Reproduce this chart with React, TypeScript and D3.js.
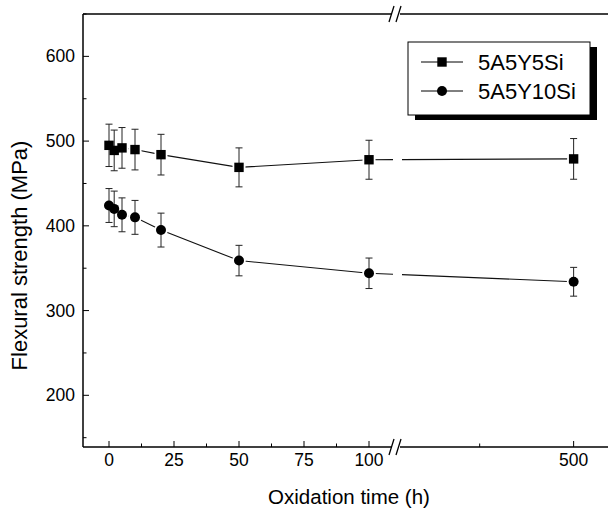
import React from 'react';
import * as d3 from 'd3';

// oxidation time (h) and flexural strength (MPa)
const times = [0, 2, 5, 10, 20, 50, 100, 500];
const si5 = [495, 489, 492, 490, 484, 469, 478, 479];
const si5Err = [25, 24, 24, 24, 24, 23, 23, 24];
const si10 = [424, 420, 413, 410, 395, 359, 344, 334];
const si10Err = [20, 21, 20, 20, 20, 18, 18, 17];

const seriesNames = ['5A5Y5Si', '5A5Y10Si'];
const yTicks = [200, 300, 400, 500, 600];
const yMinor = [150, 250, 350, 450, 550, 650];
const xTicksLeft = [0, 25, 50, 75, 100];
const xMinorLeft = [12.5, 37.5, 62.5, 87.5];
const xTicksRight = [500];
const xMinorRight = [450];

const W = 608, H = 516;
const left = 83, top = 14, bottom = 447, right = 640;
const breakX = 397;

const xLeft = d3.scaleLinear().domain([-10, 110]).range([left, 395]);
const xRight = d3.scaleLinear().domain([406, 530]).range([breakX, 630]);
const xPos = (t: number) => (t <= 110 ? xLeft(t) : xRight(t));
const y = d3.scaleLinear().domain([139, 650]).range([bottom, top]);

const font = '"Liberation Sans", Arial, sans-serif';

// split the polyline where it crosses the axis break
function segments(vals: number[]) {
  const pts = times.map((t, i) => [xPos(t), y(vals[i])] as [number, number]);
  const out: [number, number][][] = [];
  let cur: [number, number][] = [pts[0]];
  for (let i = 1; i < pts.length; i++) {
    const a = pts[i - 1], b = pts[i];
    if (a[0] < breakX && b[0] > breakX) {
      const at = (x: number) => [x, a[1] + (b[1] - a[1]) * (x - a[0]) / (b[0] - a[0])] as [number, number];
      cur.push(at(breakX - 4));
      out.push(cur);
      cur = [at(breakX + 5), b];
    } else {
      cur.push(b);
    }
  }
  out.push(cur);
  return out;
}

const line = d3.line<[number, number]>();

const Marker = ({ kind, x, yy, fill, r = 4.7 }: any) =>
  kind === 'square'
    ? <rect x={x - r} y={yy - r} width={r * 2} height={r * 2} fill={fill} />
    : <circle cx={x} cy={yy} r={r + 0.3} fill={fill} />;

const Series = ({ vals, errs, kind }: any) => (
  <g>
    {segments(vals).map((s, i) => (
      <path key={i} d={line(s) || ''} fill="none" stroke="#111" strokeWidth={1.1} />
    ))}
    {times.map((t, i) => (
      <Marker key={'h' + i} kind={kind} x={xPos(t)} yy={y(vals[i])} fill="#fff" r={6.5} />
    ))}
    {times.map((t, i) => {
      const x = xPos(t);
      return (
        <g key={'e' + i} stroke="#222" strokeWidth={1}>
          <line x1={x} x2={x} y1={y(vals[i] + errs[i])} y2={y(vals[i] - errs[i])} />
          <line x1={x - 3.5} x2={x + 3.5} y1={y(vals[i] + errs[i])} y2={y(vals[i] + errs[i])} />
          <line x1={x - 3.5} x2={x + 3.5} y1={y(vals[i] - errs[i])} y2={y(vals[i] - errs[i])} />
        </g>
      );
    })}
    {times.map((t, i) => (
      <Marker key={'m' + i} kind={kind} x={xPos(t)} yy={y(vals[i])} fill="#000" />
    ))}
  </g>
);

const BreakMark = ({ yy }: { yy: number }) => (
  <g>
    <rect x={breakX - 5} y={yy - 2} width={8} height={4} fill="#fff" />
    <line x1={breakX - 8} y1={yy + 8} x2={breakX - 3} y2={yy - 8} stroke="#000" strokeWidth={1.3} />
    <line x1={breakX - 1} y1={yy + 8} x2={breakX + 4} y2={yy - 8} stroke="#000" strokeWidth={1.3} />
  </g>
);

export default function App() {
  const lx = 408, ly = 42, lw = 182, lh = 73;
  return (
    <svg width={W} height={H} style={{ position: 'absolute', left: 0, top: 0, background: '#fff' }} fontFamily={font}>
      <rect width={W} height={H} fill="#fff" />

      {/* frame */}
      <line x1={left} x2={left} y1={top} y2={bottom} stroke="#000" strokeWidth={1.5} />
      <line x1={left} x2={right} y1={bottom} y2={bottom} stroke="#000" strokeWidth={1.5} />
      <line x1={left} x2={right} y1={top} y2={top} stroke="#000" strokeWidth={1.5} />
      <BreakMark yy={top} />
      <BreakMark yy={bottom} />

      {/* y axis */}
      {yTicks.map(v => (
        <g key={v}>
          <line x1={left} x2={left + 6} y1={y(v)} y2={y(v)} stroke="#000" />
          <text x={left - 8} y={y(v)} dy="0.35em" textAnchor="end" fontSize={17.5}>{v}</text>
        </g>
      ))}
      {yMinor.map(v => (
        <line key={v} x1={left} x2={left + 3.5} y1={y(v)} y2={y(v)} stroke="#000" />
      ))}
      <text transform={`translate(27,${(top + bottom) / 2 + 25}) rotate(-90)`} textAnchor="middle" fontSize={22}>
        Flexural strength (MPa)
      </text>

      {/* x axis */}
      {xTicksLeft.map(v => (
        <g key={v}>
          <line x1={xLeft(v)} x2={xLeft(v)} y1={bottom} y2={bottom - 6} stroke="#000" />
          <text x={xLeft(v)} y={bottom + 19} textAnchor="middle" fontSize={17.5}>{v}</text>
        </g>
      ))}
      {xMinorLeft.map(v => (
        <line key={v} x1={xLeft(v)} x2={xLeft(v)} y1={bottom} y2={bottom - 3.5} stroke="#000" />
      ))}
      {xTicksRight.map(v => (
        <g key={v}>
          <line x1={xRight(v)} x2={xRight(v)} y1={bottom} y2={bottom - 6} stroke="#000" />
          <text x={xRight(v)} y={bottom + 19} textAnchor="middle" fontSize={17.5}>{v}</text>
        </g>
      ))}
      {xMinorRight.map(v => (
        <line key={v} x1={xRight(v)} x2={xRight(v)} y1={bottom} y2={bottom - 3.5} stroke="#000" />
      ))}
      <text x={349} y={504} textAnchor="middle" fontSize={20.5}>Oxidation time (h)</text>

      <Series vals={si5} errs={si5Err} kind="square" />
      <Series vals={si10} errs={si10Err} kind="circle" />

      {/* legend */}
      <rect x={lx + 7} y={ly + 5} width={lw} height={lh} fill="#000" />
      <rect x={lx} y={ly} width={lw} height={lh} fill="#fff" stroke="#000" strokeWidth={1} />
      {seriesNames.map((n, i) => {
        const cy = ly + 20 + i * 29;
        return (
          <g key={n}>
            <line x1={lx + 13} x2={lx + 55} y1={cy} y2={cy} stroke="#000" />
            <Marker kind={i === 0 ? 'square' : 'circle'} x={lx + 34} yy={cy} fill="#000" />
            <text x={lx + 70} y={cy} dy="0.36em" fontSize={22}>{n}</text>
          </g>
        );
      })}
    </svg>
  );
}
